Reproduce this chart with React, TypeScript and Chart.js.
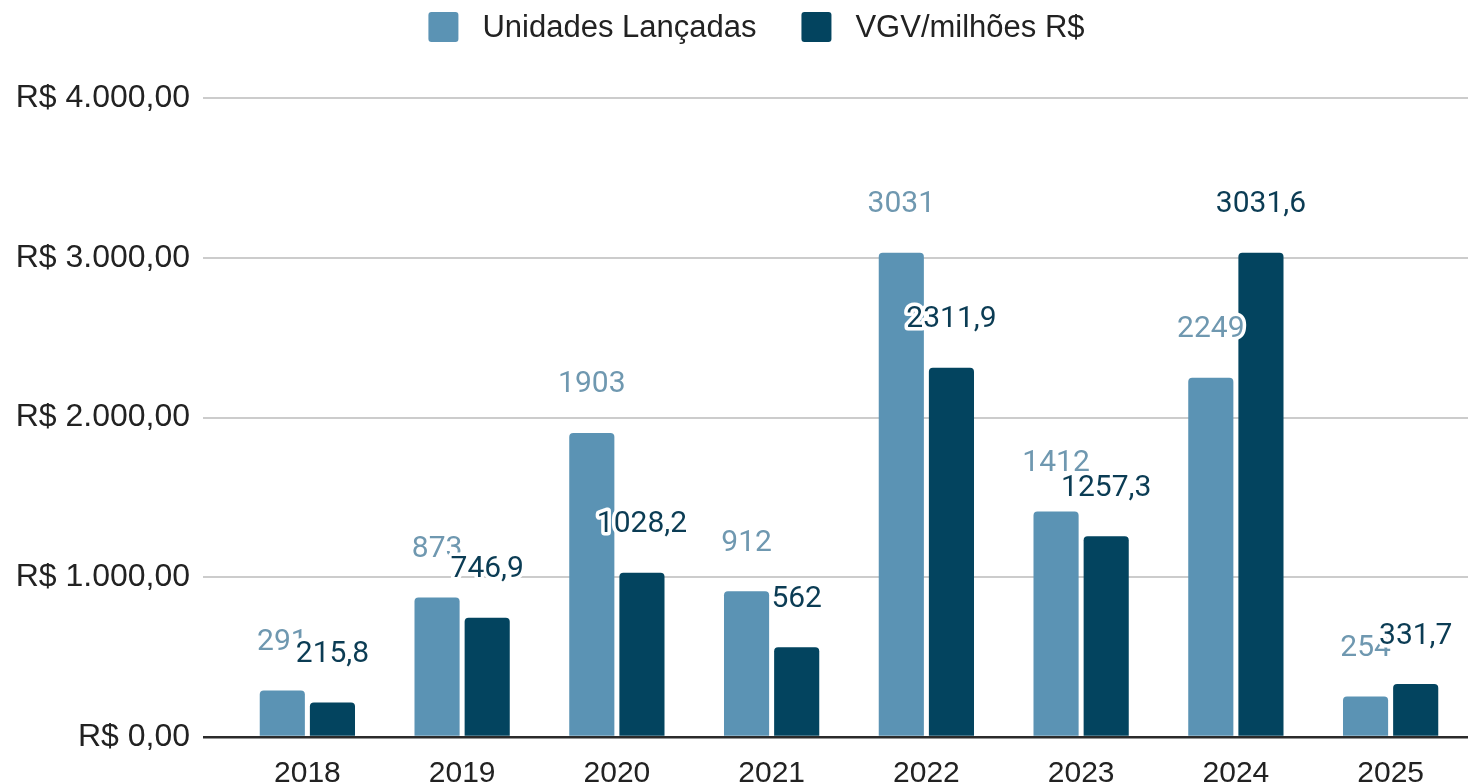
import React, { useEffect, useRef } from "react";
import { Chart, registerables } from "chart.js";

Chart.register(...registerables);

const categories = ["2018", "2019", "2020", "2021", "2022", "2023", "2024", "2025"];
const unidadesLancadas = [291, 873, 1903, 912, 3031, 1412, 2249, 254];
const vgvMilhoes = [215.8, 746.9, 1028.2, 562, 2311.9, 1257.3, 3031.6, 331.7];
const seriesNames = ["Unidades Lançadas", "VGV/milhões R$"];
const yTicks = [0, 1000, 2000, 3000, 4000];

const LIGHT = "#5b93b4";
const DARK = "#03445f";
const LIGHT_LABEL = "#6f98b0";
const DARK_LABEL = "#0b3c54";

function formatBRL(v: number): string {
  const intPart = Math.floor(Math.abs(v)).toString().replace(/\B(?=(\d{3})+(?!\d))/g, ".");
  const dec = Math.round((Math.abs(v) % 1) * 100).toString().padStart(2, "0");
  return "R$ " + intPart + "," + dec;
}

function formatValue(v: number): string {
  return String(v).replace(".", ",");
}

const dataLabelPlugin = {
  id: "dataLabels",
  afterDatasetsDraw(chart: any) {
    const ctx = chart.ctx;
    ctx.save();
    ctx.font = "30px Roboto";
    ctx.textAlign = "center";
    ctx.textBaseline = "middle";
    ctx.lineJoin = "round";
    chart.data.datasets.forEach((ds: any, i: number) => {
      const meta = chart.getDatasetMeta(i);
      meta.data.forEach((bar: any, j: number) => {
        const txt = formatValue(ds.data[j]);
        const x = bar.x;
        const y = bar.y - 48;
        ctx.lineWidth = 7;
        ctx.strokeStyle = "#ffffff";
        ctx.strokeText(txt, x, y);
        ctx.fillStyle = ds.labelColor;
        ctx.fillText(txt, x, y);
      });
    });
    ctx.restore();
  },
};

const legendPlugin = {
  id: "customLegend",
  afterDraw(chart: any) {
    const ctx = chart.ctx;
    ctx.save();
    ctx.font = "31px 'Liberation Sans', Arial, sans-serif";
    ctx.textBaseline = "middle";
    ctx.textAlign = "left";
    const box = 30;
    const boxGap = 24;
    const itemGap = 45;
    const items = chart.data.datasets.map((ds: any) => ({
      label: ds.label,
      color: ds.backgroundColor,
      w: box + boxGap + ctx.measureText(ds.label).width,
    }));
    const total = items.reduce((s: number, it: any) => s + it.w, 0) + itemGap * (items.length - 1);
    let x = chart.width / 2 + 21 - total / 2;
    const cy = 27;
    items.forEach((it: any) => {
      ctx.fillStyle = it.color;
      ctx.beginPath();
      (ctx as any).roundRect(x, cy - box / 2, box, box, 3);
      ctx.fill();
      ctx.fillStyle = "#222222";
      ctx.fillText(it.label, x + box + boxGap, cy + 1);
      x += it.w + itemGap;
    });
    ctx.restore();
  },
};

export default function App() {
  const canvasRef = useRef<HTMLCanvasElement | null>(null);

  useEffect(() => {
    if (!canvasRef.current) return;
    const chart = new Chart(canvasRef.current, {
      type: "bar",
      data: {
        labels: categories,
        datasets: [
          {
            label: seriesNames[0],
            data: unidadesLancadas,
            backgroundColor: LIGHT,
            borderRadius: 4,
            borderSkipped: "start",
            categoryPercentage: 0.648,
            barPercentage: 0.9,
            labelColor: LIGHT_LABEL,
          } as any,
          {
            label: seriesNames[1],
            data: vgvMilhoes,
            backgroundColor: DARK,
            borderRadius: 4,
            borderSkipped: "start",
            categoryPercentage: 0.648,
            barPercentage: 0.9,
            labelColor: DARK_LABEL,
          } as any,
        ],
      },
      options: {
        responsive: false,
        animation: false,
        devicePixelRatio: 1,
        layout: { padding: { top: 98, right: 3, left: 0, bottom: 0 } },
        plugins: {
          legend: { display: false },
          tooltip: { enabled: false },
        },
        scales: {
          x: {
            grid: { display: false },
            border: { display: false },
            ticks: {
              color: "#222222",
              font: { family: "'Liberation Sans', Arial, sans-serif", size: 30 },
              padding: 11,
              maxRotation: 0,
            },
            afterFit: (scale: any) => {
              scale.height = 47;
            },
          },
          y: {
            min: 0,
            max: 4000,
            afterBuildTicks: (scale: any) => {
              scale.ticks = yTicks.map((v) => ({ value: v }));
            },
            grid: {
              color: (c: any) => (c.tick && c.tick.value === 0 ? "#2b2b2b" : "#cccccc"),
              lineWidth: (c: any) => (c.tick && c.tick.value === 0 ? 2.5 : 2),
              tickLength: 27,
              drawTicks: true,
            },
            border: { display: false },
            ticks: {
              color: "#222222",
              font: { family: "'Liberation Sans', Arial, sans-serif", size: 32 },
              padding: 13,
              callback: (v: any) => formatBRL(Number(v)),
            },
            afterFit: (scale: any) => {
              scale.width = 230;
            },
          },
        },
      },
      plugins: [dataLabelPlugin, legendPlugin],
    });
    return () => chart.destroy();
  }, []);

  return (
    <div style={{ position: "fixed", left: 0, top: 0, width: 1471, height: 784, background: "#fff" }}>
      <canvas ref={canvasRef} width={1471} height={784} style={{ display: "block" }} />
    </div>
  );
}
